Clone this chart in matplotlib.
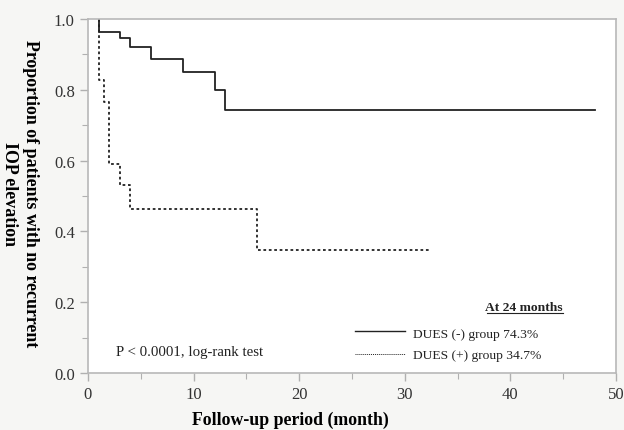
import numpy as np
import matplotlib
matplotlib.use("Agg")
import matplotlib.pyplot as plt
from matplotlib.ticker import MultipleLocator

plt.rcParams['font.family'] = ['Liberation Serif', 'DejaVu Serif']

# Kaplan-Meier steps: event month and proportion after the event
neg_t = [1, 3, 4, 6, 9, 12, 13]
neg_s = [0.964, 0.945, 0.920, 0.888, 0.851, 0.799, 0.743]
neg_end = 48
pos_t = [1, 1.5, 2, 3, 4, 16]
pos_s = [0.826, 0.765, 0.590, 0.532, 0.464, 0.347]
pos_end = 32.3

legend_labels = ['DUES (-) group 74.3%', 'DUES (+) group 34.7%']

fig = plt.figure(figsize=(6.24, 4.31), dpi=100, facecolor='#f6f6f4')
ax = fig.add_axes([0.141, 0.132, 0.846, 0.822])
ax.set_facecolor('white')

# both curves start at month 1
ax.step([1] + neg_t + [neg_end], [1.0] + neg_s + [neg_s[-1]], where='post',
        color='#222222', lw=1.3)
ax.step([1] + pos_t + [pos_end], [1.0] + pos_s + [pos_s[-1]], where='post',
        color='#222222', lw=1.3, linestyle=(0, (1.5, 1.5)))

ax.set_xlim(0, 50)
ax.set_ylim(0, 1.0)
ax.xaxis.set_major_locator(MultipleLocator(10))
ax.xaxis.set_minor_locator(MultipleLocator(5))
ax.yaxis.set_major_locator(MultipleLocator(0.2))
ax.yaxis.set_minor_locator(MultipleLocator(0.1))
ax.yaxis.set_major_formatter(plt.FuncFormatter(lambda v, p: f"{v:.1f}"))

for s in ax.spines.values():
    s.set_color('#b8b8b8')
    s.set_linewidth(1.2)
ax.tick_params(which='both', direction='out', color='#b0b0b0',
               labelsize=12, labelcolor='#333333')
ax.tick_params(which='major', length=6, width=1)
ax.tick_params(which='minor', length=4, width=0.8)

ax.set_xlabel('Follow-up period (month)', fontsize=12.8, fontweight='bold',
              labelpad=6, x=0.383)
# y label reads top to bottom in the reference
fig.text(0.032, 0.55, 'Proportion of patients with no recurrent\nIOP elevation',
         fontsize=12.9, fontweight='bold', rotation=270, ha='center',
         va='center', multialignment='center', linespacing=1.35)

ax.text(2.7, 0.061, 'P < 0.0001, log-rank test', fontsize=10.7,
        va='center', color='#222222')

# legend block
ax.text(45.0, 0.186, 'At 24 months', fontsize=9.7, fontweight='bold',
        ha='right', va='center', color='#222222')
ax.plot([37.8, 45.0], [0.170, 0.170], color='#222222', lw=0.8)
ax.plot([25.3, 30.0], [0.119, 0.119], color='#222222', lw=1.0)
ax.plot([25.3, 30.0], [0.054, 0.054], color='#222222', lw=0.7,
        linestyle=(0, (1, 1)))
ax.text(30.8, 0.110, legend_labels[0], fontsize=9.7, va='center',
        color='#222222')
ax.text(30.8, 0.050, legend_labels[1], fontsize=9.7, va='center',
        color='#222222')

fig.savefig('out.png', dpi=100, facecolor=fig.get_facecolor())
